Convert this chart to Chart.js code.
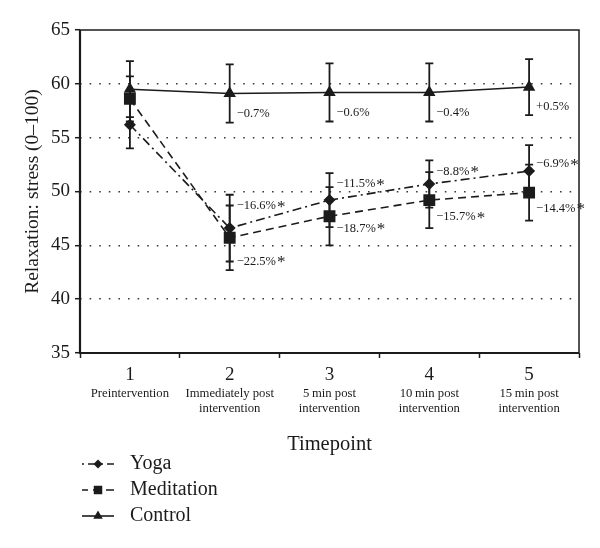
<!DOCTYPE html>
<html>
<head>
<meta charset="utf-8">
<script src="https://cdn.jsdelivr.net/npm/chart.js@4.4.1/dist/chart.umd.min.js"></script>
<style>
  html, body { margin: 0; padding: 0; background: #fff; }
</style>
</head>
<body>
<canvas id="chart" width="600" height="548"></canvas>
<script>
const TIMEPOINTS = ['1', '2', '3', '4', '5'];
const TIMEPOINT_NOTES = [
  ['Preintervention'],
  ['Immediately post', 'intervention'],
  ['5\u2009min post', 'intervention'],
  ['10\u2009min post', 'intervention'],
  ['15\u2009min post', 'intervention'],
];

const YOGA       = [56.2, 46.6, 49.2, 50.7, 51.9];
const YOGA_SD    = [2.2, 3.1, 2.5, 2.2, 2.4];
const YOGA_PCT   = ['', '\u221216.6%', '\u221211.5%', '\u22128.8%', '\u22126.9%'];

const MEDIT      = [58.6, 45.7, 47.7, 49.2, 49.9];
const MEDIT_SD   = [2.1, 3.0, 2.7, 2.6, 2.6];
const MEDIT_PCT  = ['', '\u221222.5%', '\u221218.7%', '\u221215.7%', '\u221214.4%'];

const CONTROL     = [59.5, 59.1, 59.2, 59.2, 59.7];
const CONTROL_SD  = [2.6, 2.7, 2.7, 2.7, 2.6];
const CONTROL_PCT = ['', '\u22120.7%', '\u22120.6%', '\u22120.4%', '+0.5%'];

const Y_MIN = 35, Y_MAX = 65, Y_STEP = 5;

const SERIF = '"Liberation Serif", "DejaVu Serif", serif';
const INK = '#1b1b1b';

// pixel nudges for the % labels (right of the bar, up/down from the point)
const LABEL_DY = {
  yoga:    [0, -22, -16, -12, -7],
  medit:   [0, 24, 12, 17, 16],
  control: [0, 20, 20, 20, 20],
};

const errorBars = {
  id: 'errorBars',
  beforeDatasetsDraw(chart) {
    const { ctx, scales: { y } } = chart;
    ctx.save();
    ctx.strokeStyle = INK;
    ctx.lineWidth = 1.8;
    chart.data.datasets.forEach((ds, i) => {
      chart.getDatasetMeta(i).data.forEach((pt, j) => {
        const top = y.getPixelForValue(ds.data[j] + ds.sd[j]);
        const bot = y.getPixelForValue(ds.data[j] - ds.sd[j]);
        ctx.beginPath();
        ctx.moveTo(pt.x, top); ctx.lineTo(pt.x, bot);
        ctx.moveTo(pt.x - 4, top); ctx.lineTo(pt.x + 4, top);
        ctx.moveTo(pt.x - 4, bot); ctx.lineTo(pt.x + 4, bot);
        ctx.stroke();
      });
    });
    ctx.restore();
  },
};

const pctLabels = {
  id: 'pctLabels',
  afterDatasetsDraw(chart) {
    const { ctx } = chart;
    ctx.save();
    ctx.fillStyle = INK;
    ctx.textBaseline = 'middle';
    ctx.textAlign = 'left';
    chart.data.datasets.forEach((ds, i) => {
      chart.getDatasetMeta(i).data.forEach((pt, j) => {
        const txt = ds.pct[j];
        if (!txt) return;
        const x = pt.x + 7, yy = pt.y + LABEL_DY[ds.key][j];
        ctx.font = `12.5px ${SERIF}`;
        ctx.fillText(txt, x, yy);
        if (ds.star) {
          const w = ctx.measureText(txt).width;
          ctx.font = `17px ${SERIF}`;
          ctx.fillText('*', x + w + 1, yy + 1);
        }
      });
    });
    ctx.restore();
  },
};

const frameAndText = {
  id: 'frameAndText',
  afterDraw(chart) {
    const { ctx, chartArea: a, scales: { x } } = chart;
    ctx.save();
    // plot frame
    ctx.strokeStyle = INK;
    ctx.lineWidth = 1.5;
    ctx.strokeRect(a.left, a.top, a.right - a.left, a.bottom - a.top);
    ctx.lineWidth = 2.2;
    ctx.beginPath();
    ctx.moveTo(a.left, a.top); ctx.lineTo(a.left, a.bottom); ctx.lineTo(a.right, a.bottom);
    ctx.stroke();

    // timepoint notes
    ctx.fillStyle = INK;
    ctx.textAlign = 'center';
    ctx.textBaseline = 'middle';
    ctx.font = `12.7px ${SERIF}`;
    TIMEPOINT_NOTES.forEach((lines, i) => {
      const px = x.getPixelForValue(i);
      lines.forEach((l, k) => ctx.fillText(l, px, 394 + k * 15));
    });

    // axis title
    ctx.font = `20.5px ${SERIF}`;
    ctx.fillText('Timepoint', (a.left + a.right) / 2, 445);

    // legend
    const rows = [464, 490, 516];
    chart.data.datasets.forEach((ds, i) => {
      const ry = rows[i];
      ctx.strokeStyle = INK;
      ctx.lineWidth = 1.6;
      ctx.setLineDash(ds.borderDash || []);
      ctx.lineDashOffset = ds.legendDashOffset || 0;
      ctx.beginPath();
      ctx.moveTo(82, ry); ctx.lineTo(114, ry);
      ctx.stroke();
      ctx.setLineDash([]);
      ctx.fillStyle = INK;
      Chart.helpers.drawPoint(ctx, { pointStyle: ds.pointStyle, radius: ds.legendRadius, rotation: 0, borderWidth: 0 }, 98, ry);
      ctx.fillStyle = INK;
      ctx.textAlign = 'left';
      ctx.font = `20px ${SERIF}`;
      ctx.fillText(ds.label, 130, ry);
    });
    ctx.restore();
  },
};

function lineSet(label, key, data, sd, pct, star, style, radius, legendRadius, dash, dashOffset) {
  return {
    label, key, data, sd, pct, star,
    borderColor: INK,
    borderWidth: 1.6,
    borderDash: dash,
    legendDashOffset: dashOffset,
    backgroundColor: INK,
    pointStyle: style,
    pointRadius: radius,
    pointBackgroundColor: INK,
    pointBorderColor: INK,
    pointBorderWidth: 0,
    legendRadius,
    tension: 0,
    fill: false,
  };
}

new Chart(document.getElementById('chart'), {
  type: 'line',
  data: {
    labels: TIMEPOINTS,
    datasets: [
      lineSet('Yoga', 'yoga', YOGA, YOGA_SD, YOGA_PCT, true, 'rectRot', 6, 4.5, [9, 4, 2, 4], 13),
      lineSet('Meditation', 'medit', MEDIT, MEDIT_SD, MEDIT_PCT, true, 'rect', 8.4, 6, [8, 5], 2),
      lineSet('Control', 'control', CONTROL, CONTROL_SD, CONTROL_PCT, false, 'triangle', 7.2, 5.5, [], 0),
    ],
  },
  options: {
    responsive: false,
    animation: false,
    layout: { padding: { top: 30, right: 21, left: 0, bottom: 0 } },
    plugins: {
      legend: { display: false },
      tooltip: { enabled: false },
    },
    scales: {
      x: {
        offset: true,
        afterFit: s => { s.height = 195; },
        grid: { offset: true, drawOnChartArea: false, tickLength: 5, tickColor: INK, tickWidth: 1.5 },
        border: { display: false },
        ticks: { color: INK, font: { family: SERIF, size: 19 }, padding: 6, maxRotation: 0 },
      },
      y: {
        min: Y_MIN,
        max: Y_MAX,
        afterFit: s => { s.width = 80; },
        ticks: { stepSize: Y_STEP, color: INK, font: { family: SERIF, size: 19 }, padding: 5 },
        grid: {
          color: c => (c.tick && (c.tick.value === Y_MIN || c.tick.value === Y_MAX)) ? 'rgba(0,0,0,0)' : '#3a3a3a',
          lineWidth: 1.4,
          tickLength: 5,
          tickColor: INK,
          tickWidth: 1.5,
        },
        border: { display: false, dash: [1.6, 8] },
        title: {
          display: true,
          text: 'Relaxation: stress (0\u2013100)',
          color: INK,
          font: { family: SERIF, size: 19.5 },
          padding: { top: 21, bottom: 0 },
        },
      },
    },
  },
  plugins: [errorBars, pctLabels, frameAndText],
});
</script>
</body>
</html>
